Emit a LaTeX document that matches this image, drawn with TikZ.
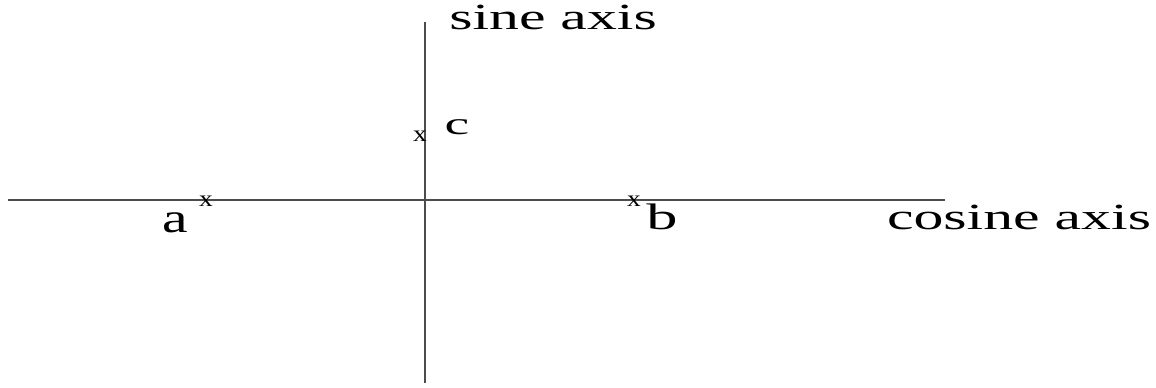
\documentclass[tikz,border=0pt]{standalone}
\usepackage{fontspec}
\setmainfont{Liberation Serif}
\usetikzlibrary{positioning, calc}
\tikzset{
	axisline/.style={
			draw=black!70,
			line width=0.6pt
		},
	axislabel/.style={
			inner sep=0pt,
			anchor=base,
			font=\fontsize{21}{25}\selectfont,
			xscale=1.62
		},
	pointmark/.style={
			inner sep=0pt,
			anchor=base,
			font=\fontsize{13}{15}\selectfont,
			xscale=1.2
		},
	pointlabel/.style={
			inner sep=0pt,
			anchor=base,
			font=\fontsize{20}{24}\selectfont,
			xscale=1.3
		}
}

\begin{document}
\begin{tikzpicture}[x=0.02cm, y=-0.02cm]
\useasboundingbox (0,0) rectangle (1156,387);
    \coordinate (west) at (8,200);
    \coordinate (east) at (945,200);
    \coordinate (north) at (425,22);
    \coordinate (south) at (425,383);

    \draw[axisline] (west) -- (east);
    \draw[axisline] (north) -- (south);

    \node[axislabel] (sinelabel) at (553,29) {sine axis};
    \node[axislabel] (coslabel) at (1019,229) {cosine axis};

    \node[pointmark] (xa) at (206,206) {x};
    \node[pointmark] (xb) at (634,206) {x};
    \node[pointmark] (xc) at (420,141) {x};

    \node[pointlabel, font=\fontsize{24}{28}\selectfont, xscale=1.05] (la) at (175,232) {a};
    \node[pointlabel, font=\fontsize{21}{25}\selectfont, xscale=1.3] (lb) at (662,229) {b};
    \node[pointlabel, font=\fontsize{18}{21}\selectfont, xscale=1.35] (lc) at (457,134) {c};
\end{tikzpicture}
\end{document}
